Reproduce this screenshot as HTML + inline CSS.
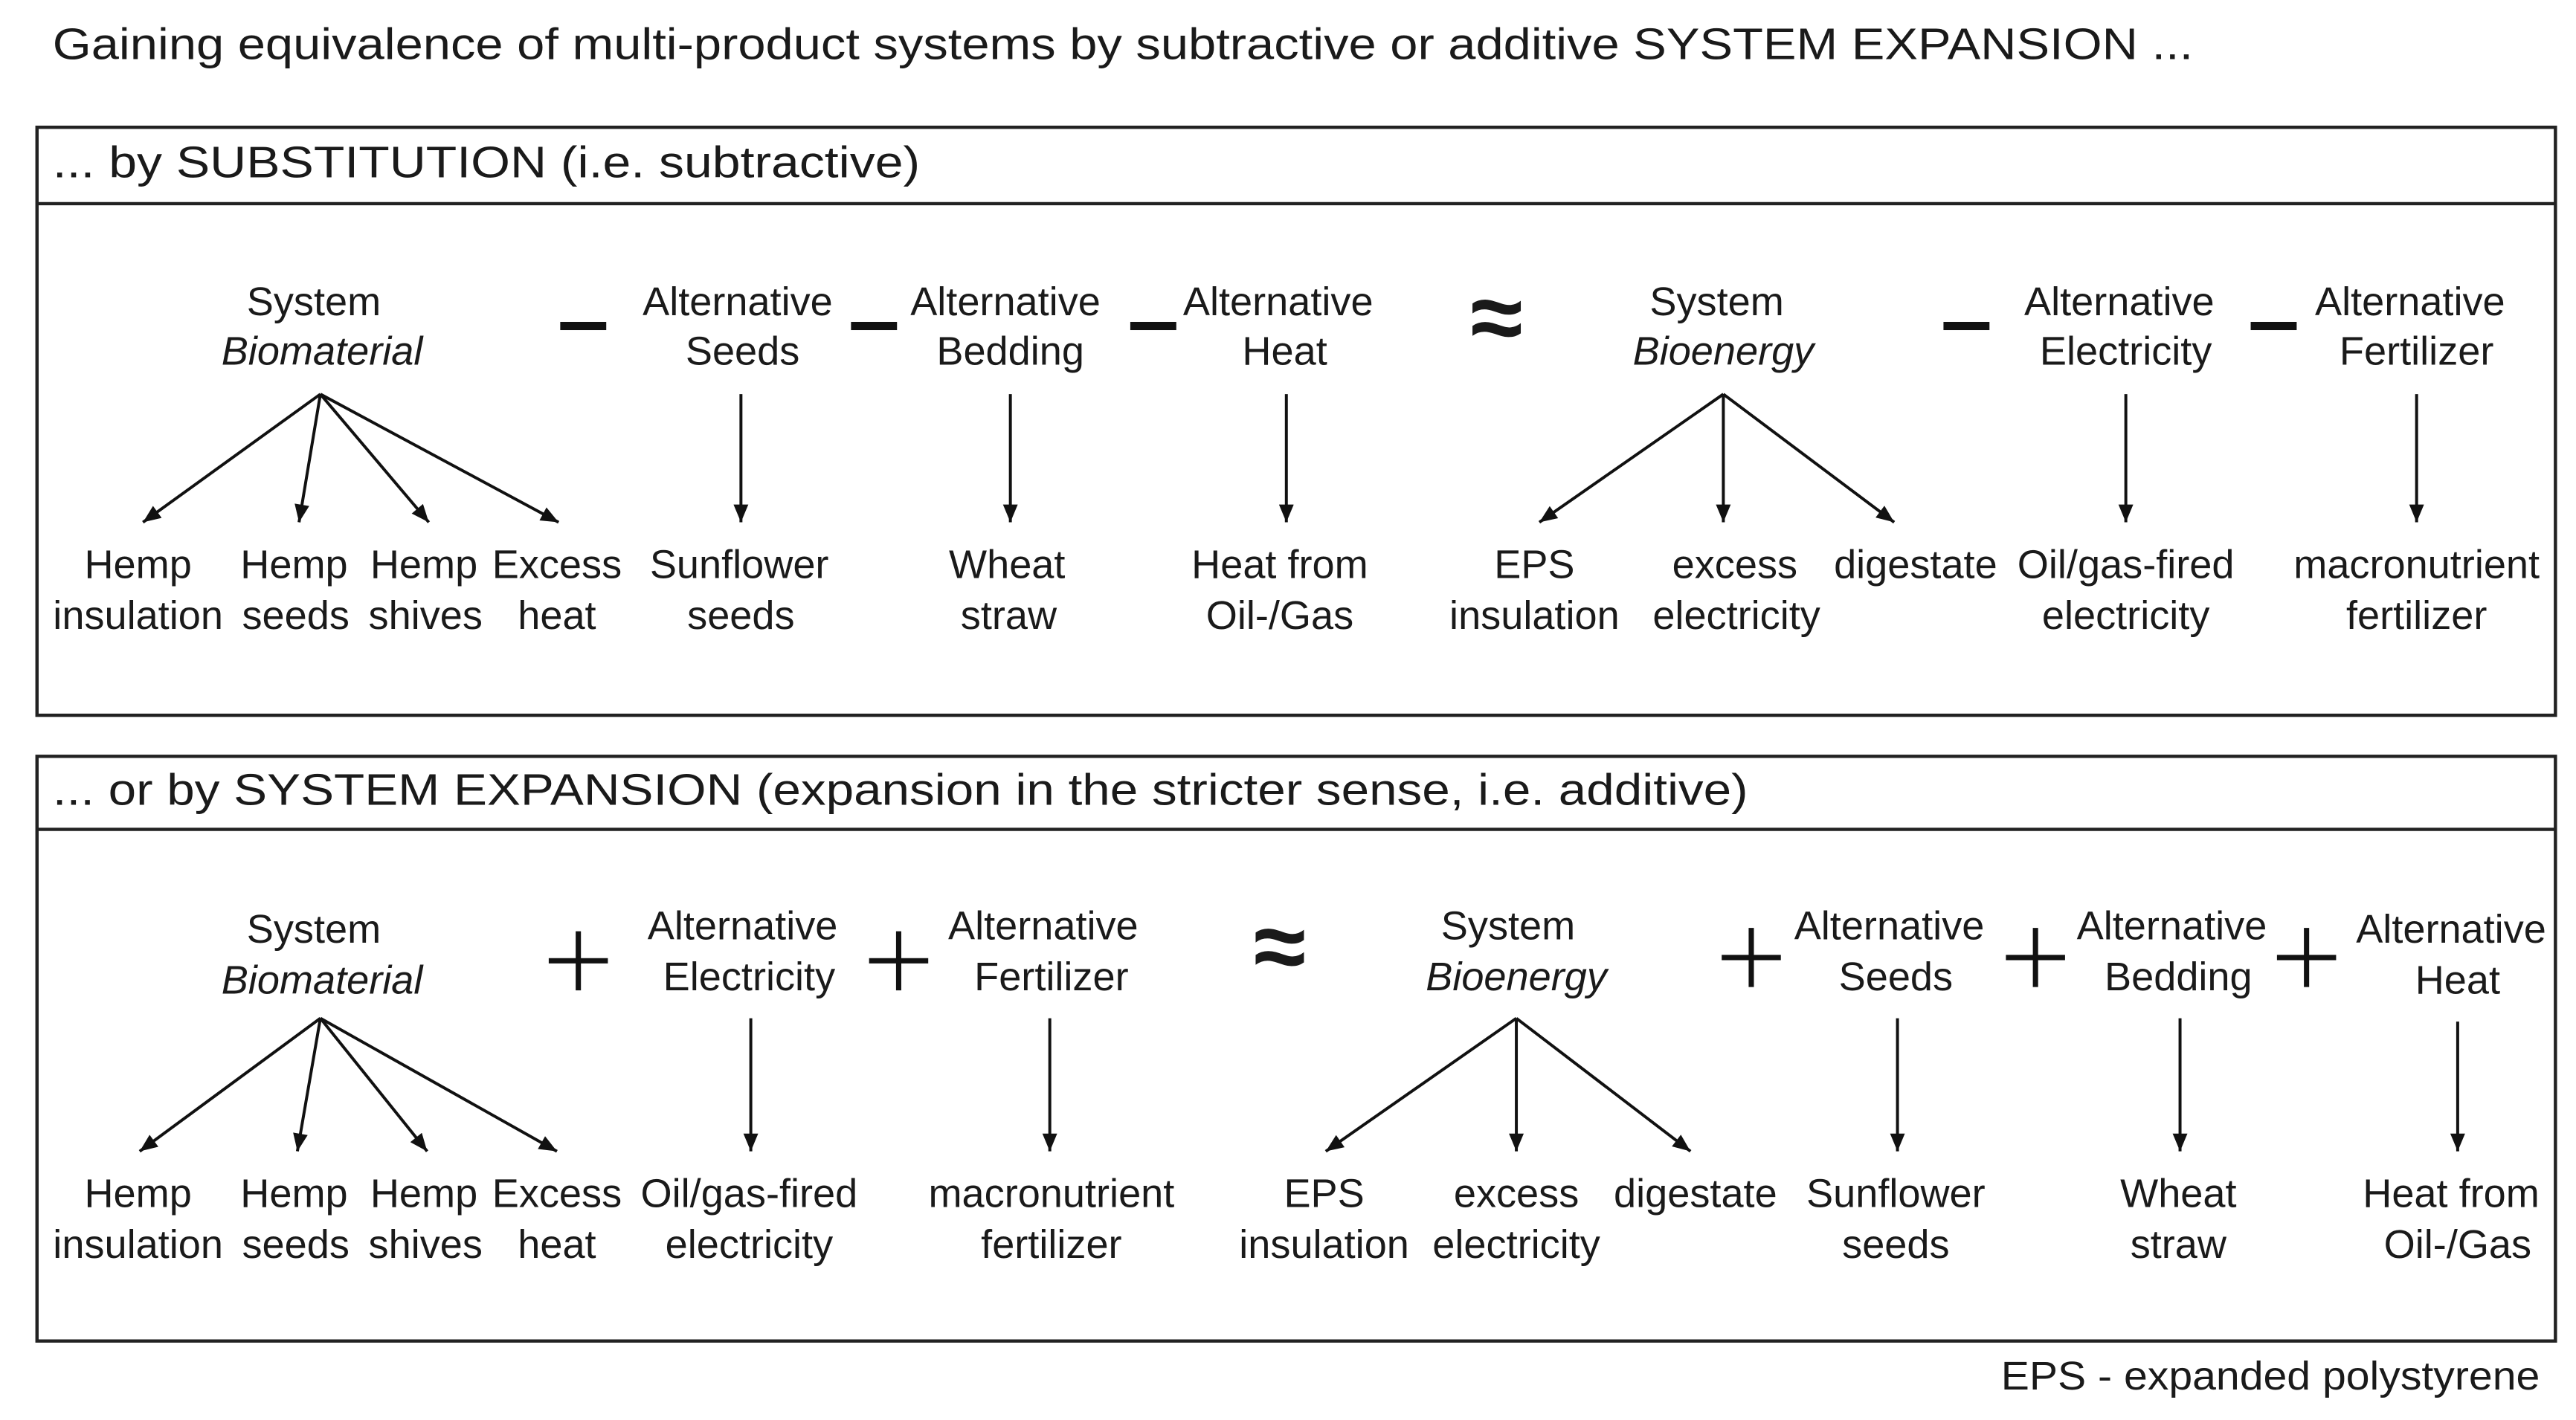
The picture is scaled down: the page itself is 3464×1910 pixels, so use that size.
<!DOCTYPE html>
<html><head><meta charset="utf-8"><style>
html,body{margin:0;padding:0;background:#fff;}
svg{display:block;}
text{font-family:"Liberation Sans",Arial,sans-serif;fill:#1a1a1a;}
</style></head><body>
<svg width="3464" height="1910" viewBox="0 0 1568 864.6" xmlns="http://www.w3.org/2000/svg">
<defs>
<marker id="a" viewBox="0 0 10 10" refX="10" refY="5" markerWidth="7" markerHeight="7" orient="auto" markerUnits="userSpaceOnUse">
<path d="M0,0 L10,5 L0,10 z" fill="#111"/>
</marker>
<marker id="b" viewBox="0 0 12 10" refX="12" refY="5" markerWidth="12" markerHeight="9" orient="auto" markerUnits="userSpaceOnUse">
<path d="M0,0 L12,5 L0,10 z" fill="#111"/>
</marker>
</defs>
<rect width="1568" height="864.6" fill="#fff"/>
<text x="32" y="36" font-size="27" textLength="1303" lengthAdjust="spacingAndGlyphs">Gaining equivalence of multi-product systems by subtractive or additive SYSTEM EXPANSION ...</text>

<!-- Box 1 -->
<rect x="22.5" y="77.5" width="1533" height="358" fill="none" stroke="#222" stroke-width="2"/>
<line x1="22" y1="124" x2="1556" y2="124" stroke="#222" stroke-width="2"/>
<text x="32" y="108" font-size="27" textLength="528" lengthAdjust="spacingAndGlyphs">... by SUBSTITUTION  (i.e. subtractive)</text>

<g font-size="24.5" text-anchor="middle">
<text x="191" y="192">System</text><text x="196" y="222" font-style="italic">Biomaterial</text>
<text x="449" y="192">Alternative</text><text x="452" y="222">Seeds</text>
<text x="612" y="192">Alternative</text><text x="615" y="222">Bedding</text>
<text x="778" y="192">Alternative</text><text x="782" y="222">Heat</text>
<text x="1045" y="192">System</text><text x="1049" y="222" font-style="italic">Bioenergy</text>
<text x="1290" y="192">Alternative</text><text x="1294" y="222">Electricity</text>
<text x="1467" y="192">Alternative</text><text x="1471" y="222">Fertilizer</text>

<text x="84" y="352">Hemp</text><text x="84" y="383">insulation</text>
<text x="179" y="352">Hemp</text><text x="180" y="383">seeds</text>
<text x="258" y="352">Hemp</text><text x="259" y="383">shives</text>
<text x="339" y="352">Excess</text><text x="339" y="383">heat</text>
<text x="450" y="352">Sunflower</text><text x="451" y="383">seeds</text>
<text x="613" y="352">Wheat</text><text x="614" y="383">straw</text>
<text x="779" y="352">Heat from</text><text x="779" y="383">Oil-/Gas</text>
<text x="934" y="352">EPS</text><text x="934" y="383">insulation</text>
<text x="1056" y="352">excess</text><text x="1057" y="383">electricity</text>
<text x="1166" y="352">digestate</text>
<text x="1294" y="352">Oil/gas-fired</text><text x="1294" y="383">electricity</text>
<text x="1471" y="352">macronutrient</text><text x="1471" y="383">fertilizer</text>
</g>
<g fill="#111">
<rect x="341" y="196" width="28" height="5"/>
<rect x="518" y="196" width="28" height="5"/>
<rect x="688" y="196" width="28" height="5"/>
<rect x="1183" y="196" width="28" height="5"/>
<rect x="1370" y="196" width="28" height="5"/>
</g>
<text x="911" y="213" font-size="58" font-weight="bold" text-anchor="middle">≈</text>

<g stroke="#111" stroke-width="1.8" fill="none" marker-end="url(#b)">
<line x1="195" y1="240" x2="87" y2="318"/>
<line x1="195" y1="240" x2="182" y2="318"/>
<line x1="195" y1="240" x2="261" y2="318"/>
<line x1="195" y1="240" x2="340" y2="318"/>
<line x1="451" y1="240" x2="451" y2="318"/>
<line x1="615" y1="240" x2="615" y2="318"/>
<line x1="783" y1="240" x2="783" y2="318"/>
<line x1="1049" y1="240" x2="937" y2="318"/>
<line x1="1049" y1="240" x2="1049" y2="318"/>
<line x1="1049" y1="240" x2="1153" y2="318"/>
<line x1="1294" y1="240" x2="1294" y2="318"/>
<line x1="1471" y1="240" x2="1471" y2="318"/>
</g>

<!-- Box 2 -->
<rect x="22.5" y="460.5" width="1533" height="356" fill="none" stroke="#222" stroke-width="2"/>
<line x1="22" y1="505" x2="1556" y2="505" stroke="#222" stroke-width="2"/>
<text x="32" y="490" font-size="27" textLength="1032" lengthAdjust="spacingAndGlyphs">... or by SYSTEM EXPANSION  (expansion in the stricter sense, i.e. additive)</text>

<g font-size="24.5" text-anchor="middle">
<text x="191" y="574">System</text><text x="196" y="605" font-style="italic">Biomaterial</text>
<text x="452" y="572">Alternative</text><text x="456" y="603">Electricity</text>
<text x="635" y="572">Alternative</text><text x="640" y="603">Fertilizer</text>
<text x="918" y="572">System</text><text x="923" y="603" font-style="italic">Bioenergy</text>
<text x="1150" y="572">Alternative</text><text x="1154" y="603">Seeds</text>
<text x="1322" y="572">Alternative</text><text x="1326" y="603">Bedding</text>
<text x="1492" y="574">Alternative</text><text x="1496" y="605">Heat</text>

<text x="84" y="735">Hemp</text><text x="84" y="766">insulation</text>
<text x="179" y="735">Hemp</text><text x="180" y="766">seeds</text>
<text x="258" y="735">Hemp</text><text x="259" y="766">shives</text>
<text x="339" y="735">Excess</text><text x="339" y="766">heat</text>
<text x="456" y="735">Oil/gas-fired</text><text x="456" y="766">electricity</text>
<text x="640" y="735">macronutrient</text><text x="640" y="766">fertilizer</text>
<text x="806" y="735">EPS</text><text x="806" y="766">insulation</text>
<text x="923" y="735">excess</text><text x="923" y="766">electricity</text>
<text x="1032" y="735">digestate</text>
<text x="1154" y="735">Sunflower</text><text x="1154" y="766">seeds</text>
<text x="1326" y="735">Wheat</text><text x="1326" y="766">straw</text>
<text x="1492" y="735">Heat from</text><text x="1496" y="766">Oil-/Gas</text>
</g>
<g stroke="#111" stroke-width="3.2">
<line x1="334" y1="585" x2="370" y2="585"/><line x1="352" y1="567" x2="352" y2="603"/>
<line x1="529" y1="585" x2="565" y2="585"/><line x1="547" y1="567" x2="547" y2="603"/>
<line x1="1048" y1="583" x2="1084" y2="583"/><line x1="1066" y1="565" x2="1066" y2="601"/>
<line x1="1221" y1="583" x2="1257" y2="583"/><line x1="1239" y1="565" x2="1239" y2="601"/>
<line x1="1386" y1="583" x2="1422" y2="583"/><line x1="1404" y1="565" x2="1404" y2="601"/>
</g>
<text x="779" y="596" font-size="58" font-weight="bold" text-anchor="middle">≈</text>

<g stroke="#111" stroke-width="1.8" fill="none" marker-end="url(#b)">
<line x1="195" y1="620" x2="85" y2="701"/>
<line x1="195" y1="620" x2="181" y2="701"/>
<line x1="195" y1="620" x2="260" y2="701"/>
<line x1="195" y1="620" x2="339" y2="701"/>
<line x1="457" y1="620" x2="457" y2="701"/>
<line x1="639" y1="620" x2="639" y2="701"/>
<line x1="923" y1="620" x2="807" y2="701"/>
<line x1="923" y1="620" x2="923" y2="701"/>
<line x1="923" y1="620" x2="1029" y2="701"/>
<line x1="1155" y1="620" x2="1155" y2="701"/>
<line x1="1327" y1="620" x2="1327" y2="701"/>
<line x1="1496" y1="622" x2="1496" y2="701"/>
</g>

<text x="1546" y="846" font-size="24.5" text-anchor="end" textLength="328" lengthAdjust="spacingAndGlyphs">EPS - expanded polystyrene</text>
</svg>
</body></html>
